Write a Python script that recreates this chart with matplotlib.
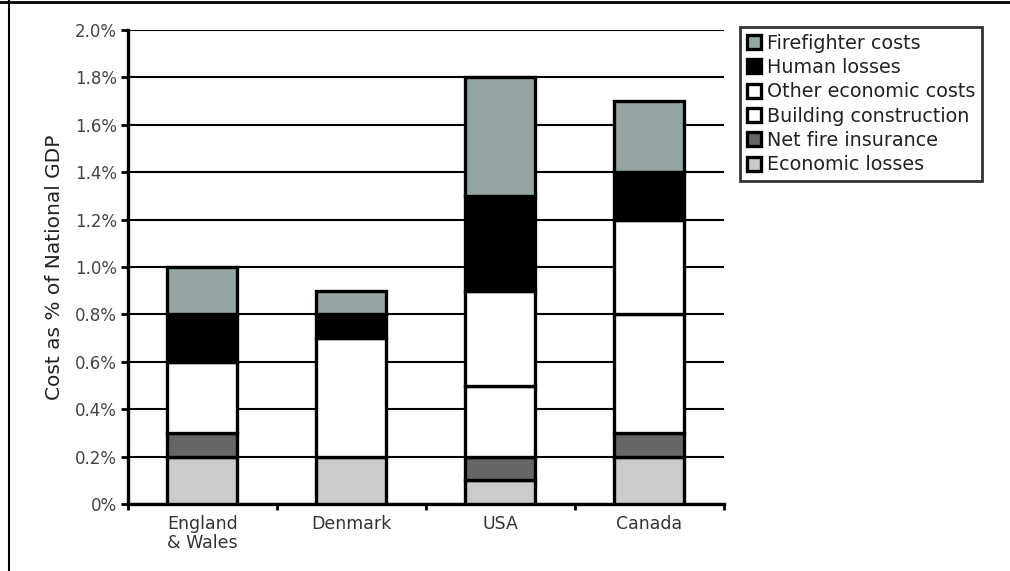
import matplotlib
matplotlib.use("Agg")
import matplotlib.pyplot as plt
from matplotlib.lines import Line2D
from matplotlib.ticker import FuncFormatter, FixedLocator
import numpy as np

# Fire cost components as % of national GDP
countries = ["England\n& Wales", "Denmark", "USA", "Canada"]
economic_losses = [0.2, 0.2, 0.1, 0.2]
net_fire_insurance = [0.1, 0.0, 0.1, 0.1]
building_construction = [0.3, 0.5, 0.3, 0.5]
other_economic_costs = [0.0, 0.0, 0.4, 0.4]
human_losses = [0.2, 0.1, 0.4, 0.2]
firefighter_costs = [0.2, 0.1, 0.5, 0.3]

series = [
    ("Economic losses", economic_losses, "#cbcbcb"),
    ("Net fire insurance", net_fire_insurance, "#666666"),
    ("Building construction", building_construction, "#ffffff"),
    ("Other economic costs", other_economic_costs, "#ffffff"),
    ("Human losses", human_losses, "#000000"),
    ("Firefighter costs", firefighter_costs, "#95a5a3"),
]

fig = plt.figure(figsize=(10.10, 5.71), dpi=100)
ax = fig.add_axes([0.1267, 0.1173, 0.5901, 0.8302])

x = np.arange(len(countries))
bottom = np.zeros(len(countries))
handles = []
for name, vals, color in series:
    vals = np.array(vals)
    mask = vals > 0
    ax.bar(x[mask], vals[mask], bottom=bottom[mask], width=0.47, color=color,
           edgecolor="black", linewidth=2.4, zorder=3)
    bottom += vals
    handles.append(plt.Rectangle((0, 0), 1, 1, facecolor=color,
                                 edgecolor="black", linewidth=2.4, label=name))

ax.set_xlim(-0.5, 3.5)
ax.set_ylim(0, 2.0)

yticks = np.round(np.arange(0, 2.01, 0.2), 1)
ax.set_yticks(yticks)
ax.yaxis.set_major_formatter(FuncFormatter(
    lambda v, p: "0%" if v == 0 else f"{v:.1f}%"))
ax.grid(axis="y", color="black", linewidth=1.5, zorder=0)
ax.set_axisbelow(True)

ax.set_xticks(x)
ax.set_xticklabels(countries, fontsize=12.5, color="#333333", linespacing=1.05)
ax.xaxis.set_minor_locator(FixedLocator([-0.5, 0.5, 1.5, 2.5, 3.5]))
ax.tick_params(axis="x", which="major", length=0, pad=8)
ax.tick_params(axis="x", which="minor", length=4, width=2, direction="out")
ax.tick_params(axis="y", length=5, width=2, direction="out", pad=3,
               labelsize=12, labelcolor="#444444")

for side in ("top", "right"):
    ax.spines[side].set_visible(False)
for side in ("left", "bottom"):
    ax.spines[side].set_linewidth(2.4)

ax.set_ylabel("Cost as % of National GDP", fontsize=14.5, color="#222222",
              labelpad=8)

leg = fig.legend(handles=handles[::-1], loc="upper left",
                 bbox_to_anchor=(0.733, 0.953), fontsize=13.8,
                 frameon=True, fancybox=False, edgecolor="black",
                 handlelength=0.75, handleheight=0.75, handletextpad=0.3,
                 labelspacing=0.28, borderpad=0.35, borderaxespad=0.0)
leg.get_frame().set_linewidth(2)
for t in leg.get_texts():
    t.set_color("#222222")

# Frame lines along the top and left edges of the figure
fig.add_artist(Line2D([0, 1], [0.996, 0.996], transform=fig.transFigure,
                      color="black", linewidth=2))
fig.add_artist(Line2D([0.009, 0.009], [0, 1], transform=fig.transFigure,
                      color="black", linewidth=1.5))

fig.savefig("out.png", dpi=100)
